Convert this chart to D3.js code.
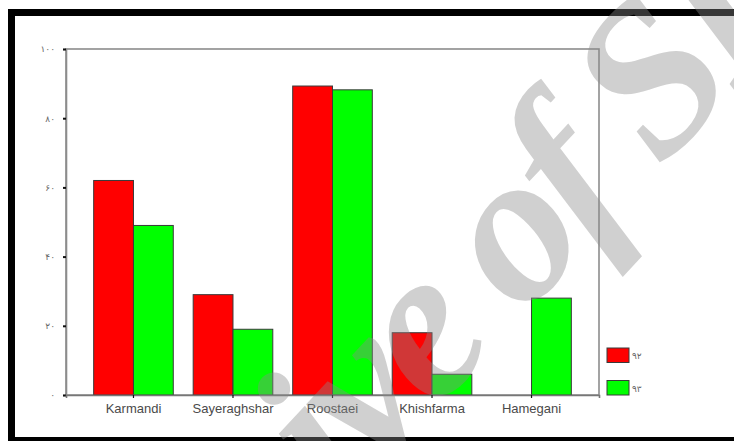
<!DOCTYPE html>
<html><head><meta charset="utf-8">
<script src="https://cdn.jsdelivr.net/npm/d3@7"></script>
<style>body{margin:0;background:#fff}svg{display:block}</style>
</head><body><svg id="chart" width="734" height="441"></svg>
<script>
// Data
const categories = ["Karmandi", "Sayeraghshar", "Roostaei", "Khishfarma", "Hamegani"];
const seriesNames = ["۹۲", "۹۳"];
const values92 = [62, 29, 89.3, 18, 0];
const values93 = [49, 19, 88.2, 6, 28];
const yTicks = [0, 20, 40, 60, 80, 100];
const yTickLabels = ["۰", "۲۰", "۴۰", "۶۰", "۸۰", "۱۰۰"];
const seriesColors = ["#ff0000", "#00ff00"];

const rows = categories.map((c, i) => ({ category: c, values: [values92[i], values93[i]] }));

const svg = d3.select("#chart");
const W = 734, H = 441;
const plot = { left: 66, right: 599, top: 49, bottom: 395 };

// Outer black frame (open on the right)
svg.append("rect").attr("x", 0).attr("y", 0).attr("width", W).attr("height", H).attr("fill", "#fff");
svg.append("rect").attr("x", 8).attr("y", 9).attr("width", W - 8).attr("height", 7).attr("fill", "#000");
svg.append("rect").attr("x", 8).attr("y", 9).attr("width", 7).attr("height", H - 9).attr("fill", "#000");
svg.append("rect").attr("x", 8).attr("y", 437).attr("width", W - 8).attr("height", 4).attr("fill", "#000");

// Scales
const x0 = d3.scaleBand().domain(categories).range([plot.left, plot.right])
  .paddingInner(0.2).paddingOuter(0.278);
const x1 = d3.scaleBand().domain(seriesNames).range([0, x0.bandwidth()]);
const y = d3.scaleLinear().domain([0, 100]).range([plot.bottom, plot.top]);
const color = d3.scaleOrdinal().domain(seriesNames).range(seriesColors);

// Plot frame
svg.append("rect")
  .attr("x", plot.left).attr("y", plot.top)
  .attr("width", plot.right - plot.left).attr("height", plot.bottom - plot.top)
  .attr("fill", "none").attr("stroke", "#8c8c8c").attr("stroke-width", 1.6);

// Bars
const groups = svg.append("g").selectAll("g").data(rows).join("g")
  .attr("transform", d => `translate(${x0(d.category)},0)`);
groups.selectAll("rect")
  .data(d => d.values.map((v, i) => ({ key: seriesNames[i], value: v })).filter(e => e.value > 0))
  .join("rect")
  .attr("x", d => x1(d.key))
  .attr("y", d => y(d.value))
  .attr("width", x1.bandwidth())
  .attr("height", d => y(0) - y(d.value))
  .attr("fill", d => color(d.key))
  .attr("stroke", "#3a3a3a").attr("stroke-width", 1);

// Axes
const yAxis = svg.append("g").attr("transform", `translate(${plot.left},0)`)
  .call(d3.axisLeft(y).tickValues(yTicks).tickFormat((d, i) => yTickLabels[i])
    .tickSize(3).tickPadding(8));
yAxis.select(".domain").attr("stroke", "#8c8c8c").attr("stroke-width", 1.6);
yAxis.selectAll(".tick line").attr("stroke", "#111").attr("stroke-width", 2);
yAxis.selectAll(".tick text").attr("fill", "#666").attr("font-size", 9)
  .attr("font-family", "'DejaVu Sans', sans-serif");

const xAxis = svg.append("g").attr("transform", `translate(0,${plot.bottom})`)
  .call(d3.axisBottom(x0).tickSize(3).tickPadding(6));
xAxis.select(".domain").attr("stroke", "#777").attr("stroke-width", 1.6);
xAxis.selectAll(".tick line").attr("stroke", "#111").attr("stroke-width", 1.2);
xAxis.selectAll(".tick text").attr("fill", "#4a4a4a").attr("font-size", 13)
  .attr("font-family", "'Liberation Sans', Arial, sans-serif");

// Legend
const legend = svg.append("g").selectAll("g").data(seriesNames).join("g")
  .attr("transform", (d, i) => `translate(607,${348 + i * 32.5})`);
legend.append("rect").attr("width", 22).attr("height", 14.5)
  .attr("fill", d => color(d)).attr("stroke", "#3a3a3a").attr("stroke-width", 1);
legend.append("text").attr("x", 25).attr("y", 8).attr("dy", "0.35em")
  .attr("fill", "#666").attr("font-size", 9)
  .attr("font-family", "'DejaVu Sans', sans-serif").text(d => d);

// Watermark
svg.append("g").attr("transform", "translate(522,246) rotate(-47)")
  .append("text")
  .attr("x", -718).attr("y", 49)
  .style("font-family", "'Liberation Serif', 'DejaVu Serif', serif")
  .style("font-style", "italic").style("font-weight", "bold")
  .style("letter-spacing", "-10px")
  .attr("font-size", 215).attr("fill", "#8a8a8a").attr("fill-opacity", 0.4)
  .text("Archive of SID");
</script>
</body></html>
